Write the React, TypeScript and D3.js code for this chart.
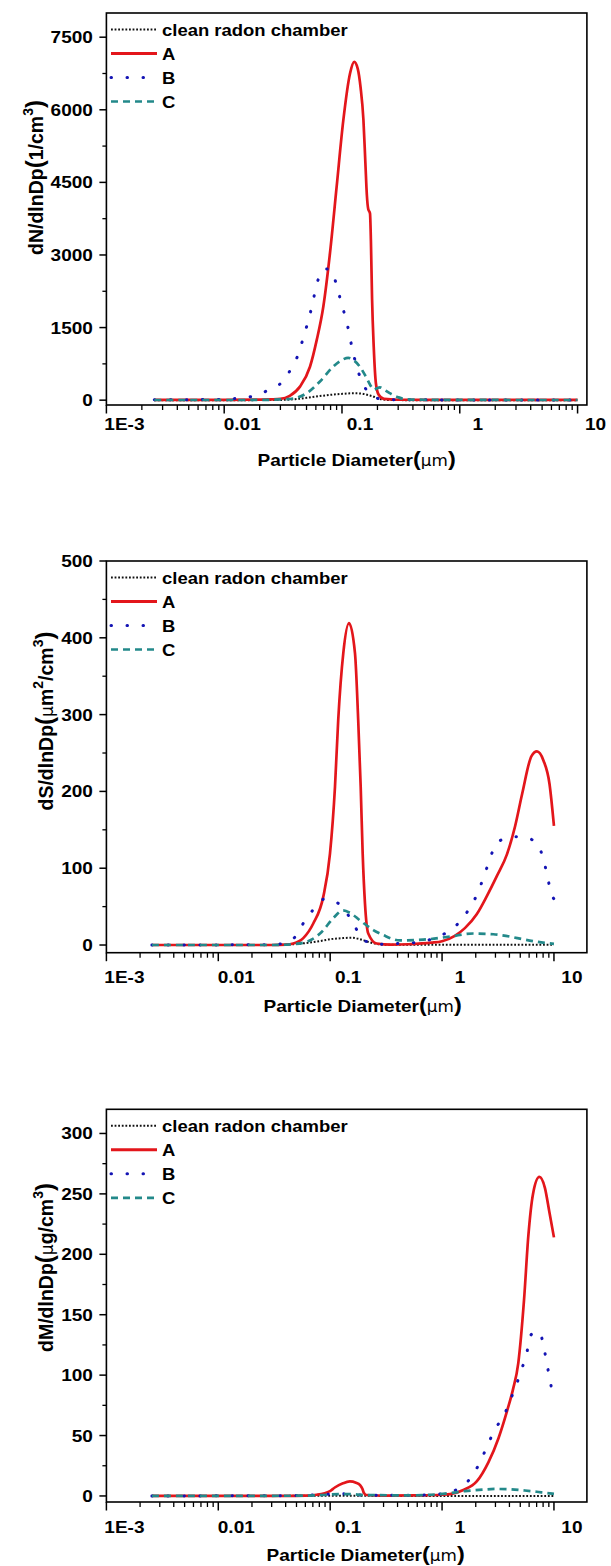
import React from "react";
import * as d3 from "d3";

type Pt = [number, number];

const seriesNames = ["clean radon chamber", "A", "B", "C"];
const xTickValues = [0.001, 0.01, 0.1, 1, 10];
const xTickLabels = ["1E-3", "0.01", "0.1", "1", "10"];
const nTicks = [0, 1500, 3000, 4500, 6000, 7500];
const sTicks = [0, 100, 200, 300, 400, 500];
const mTicks = [0, 50, 100, 150, 200, 250, 300];

// dN/dlnDp
const nClean: Pt[] = [[0.00255,0],[0.01,0],[0.02,1],[0.03,5],[0.04,20],[0.05,48],[0.065,85],[0.08,110],[0.1,130],[0.12,142],[0.14,140],[0.155,125],[0.17,100],[0.187,70],[0.2,40],[0.22,15],[0.26,3],[0.4,0],[10,0]];
const nA: Pt[] = [[0.00255,5],[0.005,5],[0.01,5],[0.02,10],[0.025,15],[0.03,25],[0.036,90],[0.044,280],[0.0535,690],[0.061,1240],[0.0694,1930],[0.079,3030],[0.09,4400],[0.1026,5780],[0.117,6750],[0.127,6990],[0.136,6850],[0.144,6450],[0.152,5800],[0.158,4900],[0.1625,4250],[0.167,3950],[0.1729,3860],[0.176,3300],[0.18,2100],[0.186,1100],[0.194,350],[0.205,110],[0.227,25],[0.3,8],[1,5],[10,5]];
const nB: Pt[] = [[0.00255,8],[0.005,10],[0.01,18],[0.0132,41],[0.0184,95],[0.0245,227],[0.0313,384],[0.0378,693],[0.0434,1003],[0.0476,1347],[0.0525,1691],[0.0566,2034],[0.0606,2358],[0.0675,2674],[0.073,2710],[0.08,2690],[0.0908,2344],[0.098,2034],[0.1075,1691],[0.116,1347],[0.1233,1003],[0.132,750],[0.142,480],[0.155,280],[0.17,140],[0.19,60],[0.22,20],[0.3,8],[1,5],[10,5]];
const nC: Pt[] = [[0.00255,3],[0.01,3],[0.02,5],[0.03,15],[0.0385,35],[0.0502,145],[0.065,385],[0.0844,695],[0.1,830],[0.113,875],[0.125,830],[0.142,690],[0.16,480],[0.175,300],[0.187,215],[0.198,245],[0.21,265],[0.23,210],[0.254,145],[0.3,60],[0.345,20],[0.5,8],[1,5],[10,3]];

// dS/dlnDp
const sClean: Pt[] = [[0.00255,0],[0.03,0],[0.04,0.5],[0.06,2.5],[0.08,5],[0.1,7.5],[0.13,9],[0.156,9.5],[0.18,8],[0.2,6],[0.22,4],[0.25,2],[0.3,0.5],[1,0.3],[10,0.3]];
const sA: Pt[] = [[0.00255,0],[0.03,0],[0.04,0.5],[0.0468,2],[0.0575,9],[0.0706,28],[0.0868,63],[0.0996,119],[0.1104,206],[0.118,293],[0.131,380],[0.1473,419],[0.1666,380],[0.178,293],[0.1874,206],[0.1952,119],[0.2047,54],[0.219,15],[0.26,2],[0.35,0.5],[0.5,1],[0.8,3],[1,5],[1.3,12],[1.6,22],[2.04,40],[2.5,63],[3.07,89],[3.8,118],[4.5,155],[5.2,197],[6.3,246],[7.05,252],[8.07,240],[9.12,210],[10,155]];
const sB: Pt[] = [[0.00255,0],[0.03,0.5],[0.04,3],[0.0502,13],[0.0595,32],[0.0706,46],[0.0868,59.5],[0.095,60],[0.1067,58],[0.131,48],[0.161,28],[0.198,6.5],[0.25,2],[0.279,1],[0.406,2],[0.553,3],[0.78,7],[1.06,15],[1.35,26],[1.71,45],[2.04,65],[2.31,85],[2.59,106],[2.91,126],[3.3,136],[3.9,139],[4.6,141],[5.63,140],[7.17,130],[8.08,111],[8.75,89],[9.5,66],[10,60]];
const sC: Pt[] = [[0.00255,0],[0.03,0],[0.045,1],[0.0575,3],[0.07,8],[0.0839,17],[0.1066,35],[0.13,45],[0.15,42],[0.185,32],[0.243,19.5],[0.298,13],[0.42,6],[0.68,7],[1.175,11],[1.9,15],[2.5,14.5],[2.87,14],[4.04,11],[4.7,9],[7.2,4],[10,1.5]];

// dM/dlnDp
const mClean: Pt[] = [[0.00255,0],[0.01,0],[0.1,0.1],[1,0],[10,0]];
const mA: Pt[] = [[0.00255,0],[0.04,0],[0.06,0.3],[0.0757,1],[0.0996,4],[0.11,7],[0.13,10.5],[0.15,12],[0.17,11],[0.185,9],[0.194,6],[0.2,2.5],[0.21,0.8],[0.3,0.3],[0.6,0.5],[1,1],[1.18,1.5],[1.55,5],[2.04,12],[2.6,28],[3.2,48],[3.8,70],[4.3,88],[4.8,110],[5.4,162],[5.9,215],[6.5,250],[7.4,264],[8.3,255],[9.1,235],[10,214]];
const mB: Pt[] = [[0.00255,0],[0.05,0.3],[0.08,1],[0.12,1.8],[0.15,1.5],[0.2,0.6],[0.5,0.5],[0.8,1],[1.025,2],[1.45,7],[1.84,16],[2.21,29],[2.55,42],[2.97,55],[3.63,68],[4.08,79.5],[4.61,92],[5.2,106],[5.73,119],[6.21,133],[6.8,136],[7.47,135],[8.2,121],[8.75,107],[9.34,93],[10,80]];
const mC: Pt[] = [[0.00255,0],[0.05,0.2],[0.08,0.6],[0.12,1.5],[0.15,1.5],[0.2,0.8],[0.5,0.5],[0.8,1],[1.2,2.5],[1.6,4],[2.3,5.2],[3,5.8],[4,5.5],[5.5,4.5],[7,3.5],[8.5,2.5],[10,1.8]];

const styles = [
  { stroke: "#111111", width: 2, dash: "1.8 1.8", cap: "butt" },
  { stroke: "#e3161b", width: 2.7, dash: "", cap: "butt" },
  { stroke: "#1414b4", width: 3, dash: "0.5 15.5", cap: "round" },
  { stroke: "#23898a", width: 2.7, dash: "7 5", cap: "butt" },
];

const L = 106.4;
const R = 586.9;
const FONT = "'Liberation Sans', Arial, Helvetica, sans-serif";

type Cfg = {
  top: number; bottom: number; xMax: number; yDomain: [number, number];
  ticks: number[]; minor: number; series: Pt[][];
  xLabelDy: number; xTitleDy: number; xTitleDx: number; yTitleX: number; yTitleCY: number;
  title: React.ReactNode;
};

const Txt = ({ x, y, anchor, size = 17, sx = 1.12, children }: any) => (
  <text transform={`translate(${x},${y}) scale(${sx},1)`} textAnchor={anchor}
    fontFamily={FONT} fontWeight="bold" fontSize={size} fill="#000">{children}</text>
);

function Panel({ cfg }: { cfg: Cfg }) {
  const x = d3.scaleLog().domain([0.001, cfg.xMax]).range([L, R]);
  const y = d3.scaleLinear().domain(cfg.yDomain).range([cfg.bottom, cfg.top]);
  const line = d3.line<Pt>().x(d => x(d[0])).y(d => y(d[1])).curve(d3.curveMonotoneX);
  const minorX: number[] = [];
  for (let e = -3; e <= 1; e++) for (let k = 2; k <= 9; k++) {
    const v = k * Math.pow(10, e);
    if (v < cfg.xMax) minorX.push(v);
  }
  const minorY: number[] = [];
  for (let v = cfg.minor; v < cfg.yDomain[1]; v += cfg.minor * 2) minorY.push(v);
  return (
    <g>
      <defs>
        <clipPath id={`clip${Math.round(cfg.top)}`}>
          <rect x={L} y={cfg.top} width={R - L} height={cfg.bottom - cfg.top} />
        </clipPath>
      </defs>
      <g clipPath={`url(#clip${Math.round(cfg.top)})`}>
        {cfg.series.map((s, i) => (
          <path key={i} d={line(s) || ""} fill="none" stroke={styles[i].stroke}
            strokeWidth={styles[i].width} strokeDasharray={styles[i].dash || undefined}
            strokeLinecap={styles[i].cap as any} strokeLinejoin="round" />
        ))}
      </g>
      <rect x={L} y={cfg.top} width={R - L} height={cfg.bottom - cfg.top} fill="none" stroke="#000" strokeWidth={1.6} />
      {xTickValues.map((v, i) => (
        <g key={i}>
          <line x1={x(v)} x2={x(v)} y1={cfg.bottom} y2={cfg.bottom + 8.5} stroke="#000" strokeWidth={1.5} />
          <Txt x={x(v) + 18} y={cfg.bottom + cfg.xLabelDy} anchor="middle">{xTickLabels[i]}</Txt>
        </g>
      ))}
      {minorX.map((v, i) => (
        <line key={i} x1={x(v)} x2={x(v)} y1={cfg.bottom} y2={cfg.bottom + 5} stroke="#000" strokeWidth={1.3} />
      ))}
      {cfg.ticks.map((v, i) => (
        <g key={i}>
          <line x1={L - 7} x2={L} y1={y(v)} y2={y(v)} stroke="#000" strokeWidth={1.5} />
          <Txt x={L - 13.5} y={y(v) + 6} anchor="end">{String(v)}</Txt>
        </g>
      ))}
      {minorY.map((v, i) => (
        <line key={i} x1={L - 4} x2={L} y1={y(v)} y2={y(v)} stroke="#000" strokeWidth={1.3} />
      ))}
      {seriesNames.map((n, i) => {
        const ly = cfg.top + 16.5 + 24 * i;
        return (
          <g key={i}>
            <line x1={111} x2={157} y1={ly} y2={ly} stroke={styles[i].stroke}
              strokeWidth={i === 1 ? 3 : styles[i].width} strokeDasharray={styles[i].dash || undefined}
              strokeLinecap={styles[i].cap as any} />
            <Txt x={162} y={ly + 6} anchor="start" size={16.5}>{n}</Txt>
          </g>
        );
      })}
      <Txt x={(L + R) / 2 + cfg.xTitleDx} y={cfg.bottom + cfg.xTitleDy} anchor="middle">
        <tspan>Particle Diameter</tspan>
        <tspan fontSize={21}>(</tspan>
        <tspan fontWeight="normal" fontFamily="'DejaVu Sans', sans-serif" fontSize={15}>μm</tspan>
        <tspan fontSize={21}>)</tspan>
      </Txt>
      <text transform={`translate(${cfg.yTitleX},${cfg.yTitleCY}) rotate(-90)`} textAnchor="middle"
        fontFamily={FONT} fontWeight="bold" fontSize={19.5} fill="#000">{cfg.title}</text>
    </g>
  );
}

const Mu = () => <tspan fontWeight="normal" fontFamily="'DejaVu Sans', sans-serif" fontSize={17}>μ</tspan>;

const panels: Cfg[] = [
  {
    top: 13, bottom: 405, xMax: 12, yDomain: [-100, 8000], ticks: nTicks, minor: 750,
    series: [nClean, nA, nB, nC], xLabelDy: 24.5, xTitleDy: 61, xTitleDx: 10, yTitleX: 43, yTitleCY: 177.5,
    title: <>
      <tspan>dN/dlnDp</tspan><tspan fontSize={24}>(</tspan><tspan>1/cm</tspan>
      <tspan dy={-10} fontSize={14}>3</tspan><tspan dy={10} fontSize={24}>)</tspan>
    </>,
  },
  {
    top: 561, bottom: 952.7, xMax: 19.7, yDomain: [-10, 500], ticks: sTicks, minor: 50,
    series: [sClean, sA, sB, sC], xLabelDy: 30.5, xTitleDy: 59, xTitleDx: 16, yTitleX: 52.5, yTitleCY: 721,
    title: <>
      <tspan>dS/dlnDp</tspan><tspan fontSize={24}>(</tspan><Mu /><tspan>m</tspan>
      <tspan dy={-10} fontSize={14}>2</tspan><tspan dy={10}>/cm</tspan>
      <tspan dy={-10} fontSize={14}>3</tspan><tspan dy={10} fontSize={24}>)</tspan>
    </>,
  },
  {
    top: 1109.3, bottom: 1502, xMax: 19.7, yDomain: [-5, 320], ticks: mTicks, minor: 25,
    series: [mClean, mA, mB, mC], xLabelDy: 31, xTitleDy: 58.5, xTitleDx: 19, yTitleX: 52.5, yTitleCY: 1267.5,
    title: <>
      <tspan>dM/dlnDp</tspan><tspan fontSize={24}>(</tspan><Mu /><tspan>g/cm</tspan>
      <tspan dy={-10} fontSize={14}>3</tspan><tspan dy={10} fontSize={24}>)</tspan>
    </>,
  },
];

export default function App() {
  return (
    <svg width={611} height={1566} style={{ position: "absolute", left: 0, top: 0, background: "#fff" }}>
      <rect width={611} height={1566} fill="#fff" />
      {panels.map((c, i) => <Panel key={i} cfg={c} />)}
    </svg>
  );
}
